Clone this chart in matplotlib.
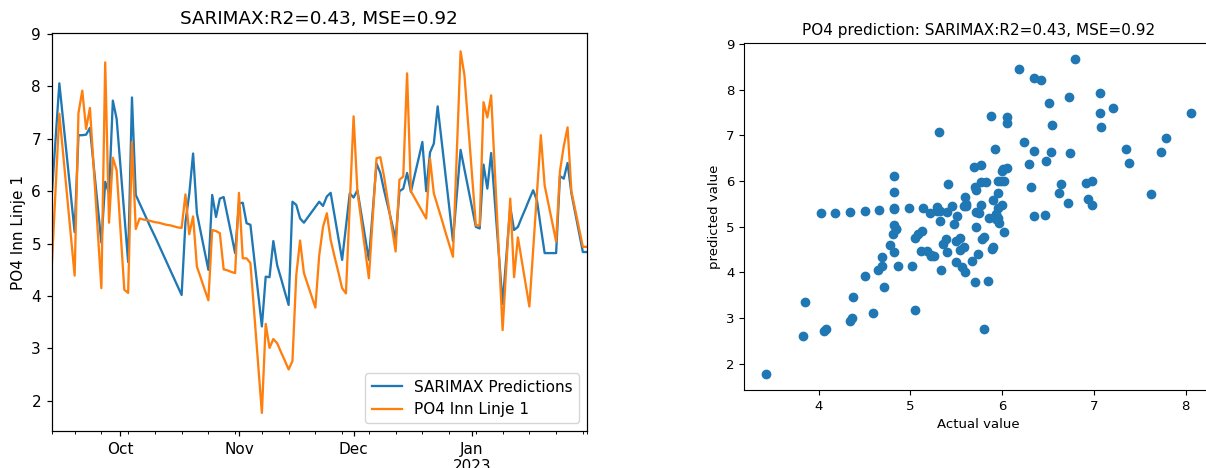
import matplotlib
matplotlib.use("Agg")
import matplotlib.pyplot as plt
import matplotlib.dates as mdates
import matplotlib.ticker as mticker
import numpy as np
import pandas as pd

# Daily PO4 series (inlet line 1) and SARIMAX one-step predictions
start_date = "2022-09-13"
end_date = "2023-01-31"

predicted = [
    5.90, 6.98, 8.06, 7.35, 6.64, 5.93, 5.22, 7.07, 7.07, 7.08,
    7.21, 6.48, 5.75, 5.02, 6.18, 5.96, 7.73, 7.38, 6.47, 5.56,
    4.65, 7.79, 5.93, 5.77, 5.61, 5.45, 5.29, 5.14, 4.98, 4.82,
    4.66, 4.50, 4.34, 4.18, 4.02, 5.41, 5.95, 6.72, 5.58, 5.22,
    4.86, 4.50, 5.93, 5.51, 5.86, 5.89, 5.54, 5.18, 4.82, 5.77,
    5.78, 5.39, 5.36, 4.71, 4.06, 3.42, 4.37, 4.36, 5.05, 4.59,
    4.34, 4.08, 3.83, 5.80, 5.74, 5.48, 5.40, 5.50, 5.60, 5.70,
    5.80, 5.72, 5.90, 5.97, 5.54, 5.12, 4.69, 5.33, 5.96, 5.88,
    6.02, 5.58, 5.13, 4.69, 5.61, 6.53, 6.35, 6.01, 5.71, 5.40,
    5.08, 6.00, 6.05, 6.35, 5.99, 6.31, 6.62, 6.94, 6.00, 6.74,
    6.91, 7.62, 6.98, 6.35, 5.72, 5.05, 5.92, 6.79, 6.42, 6.05,
    5.69, 5.32, 5.29, 6.51, 6.05, 6.73, 5.77, 4.81, 3.85, 4.78,
    5.70, 5.26, 5.32, 5.50, 5.67, 5.85, 6.02, 5.82, 5.31, 4.82,
    4.82, 4.82, 4.82, 6.29, 6.24, 6.54, 5.96, 5.59, 5.21, 4.84,
    4.84,
]

actual = [
    4.55, 6.00, 7.48, 6.71, 5.94, 5.16, 4.39, 7.49, 7.92, 7.19,
    7.59, 6.44, 5.30, 4.15, 8.46, 5.40, 6.64, 6.40, 5.26, 4.12,
    4.06, 6.94, 5.28, 5.48, 5.46, 5.45, 5.43, 5.41, 5.40, 5.38,
    5.36, 5.35, 5.33, 5.31, 5.30, 5.94, 5.18, 5.52, 4.56, 4.35,
    4.13, 3.92, 5.26, 5.24, 5.20, 4.51, 4.49, 4.46, 4.44, 5.97,
    4.72, 4.72, 4.63, 3.67, 2.72, 1.77, 3.47, 3.01, 3.18, 3.10,
    2.93, 2.77, 2.60, 2.76, 4.40, 5.06, 4.44, 4.22, 4.00, 3.78,
    4.77, 5.32, 5.58, 5.07, 4.76, 4.46, 4.15, 4.05, 5.74, 7.43,
    6.00, 5.45, 4.90, 4.34, 5.49, 6.63, 6.65, 6.27, 5.80, 5.32,
    4.85, 6.22, 6.28, 8.25, 6.00, 5.87, 5.74, 5.61, 5.48, 6.62,
    5.96, 5.72, 5.48, 5.23, 4.99, 4.75, 6.70, 8.67, 8.22, 7.26,
    6.31, 5.35, 5.35, 7.70, 7.41, 7.83, 6.34, 4.85, 3.35, 4.61,
    5.86, 4.36, 5.12, 4.68, 4.24, 3.80, 4.89, 5.98, 7.07, 6.11,
    5.76, 5.40, 5.04, 6.38, 6.86, 7.22, 6.00, 5.65, 5.30, 4.94,
    4.94,
]

dates = pd.date_range(start_date, end_date, freq="D")

title_ts = "SARIMAX:R2=0.43, MSE=0.92"
title_sc = "PO4 prediction: SARIMAX:R2=0.43, MSE=0.92"
series_label = "PO4 Inn Linje 1"
pred_label = "SARIMAX Predictions"

BLUE = "#1f77b4"
ORANGE = "#ff7f0e"
k = 1.1  # the time-series panel is drawn a little larger than default

fig = plt.figure(figsize=(12.06, 4.68), dpi=100)

# ---- time series panel ----
ax1 = fig.add_axes([0.04287, 0.0791, 0.4436, 0.8498])
ax1.plot(dates, predicted, color=BLUE, lw=1.5 * k, label=pred_label)
ax1.plot(dates, actual, color=ORANGE, lw=1.5 * k, label=series_label)
ax1.set_xlim(dates[0], dates[-1])
ax1.margins(y=0.05)
ax1.set_title(title_ts, fontsize=12 * k, pad=6 * k)
ax1.set_ylabel(series_label, fontsize=10 * k)
ax1.legend(loc="lower right", fontsize=10 * k)
for sp in ax1.spines.values():
    sp.set_linewidth(0.8 * k)

ax1.xaxis.set_major_locator(mdates.MonthLocator())


def month_fmt(x, pos=None):
    d = mdates.num2date(x)
    if d.month == 1:
        return d.strftime("%b") + "\n" + d.strftime("%Y")
    return d.strftime("%b")


ax1.xaxis.set_major_formatter(mticker.FuncFormatter(month_fmt))
mondays = pd.date_range(start_date, end_date, freq="W-MON")
minor_pos = [dates[0]] + list(mondays) + [dates[-1]]
ax1.xaxis.set_minor_locator(mticker.FixedLocator(mdates.date2num(minor_pos)))
ax1.tick_params(axis="both", which="major", length=3.5 * k, width=0.8 * k,
                pad=3.5 * k, labelsize=10 * k)
ax1.tick_params(axis="x", which="minor", length=2 * k, width=0.6 * k)

# ---- scatter panel ----
ax2 = fig.add_axes([0.6172, 0.1667, 0.3880, 0.7408])
ax2.scatter(predicted, actual, s=36, color=BLUE)
ax2.margins(0.05)
ax2.set_title(title_sc, fontsize=11)
ax2.set_xlabel("Actual value", fontsize=9.5)
ax2.set_ylabel("predicted value", fontsize=9.5)
ax2.tick_params(labelsize=9.5)

fig.savefig("out.png", dpi=100)
